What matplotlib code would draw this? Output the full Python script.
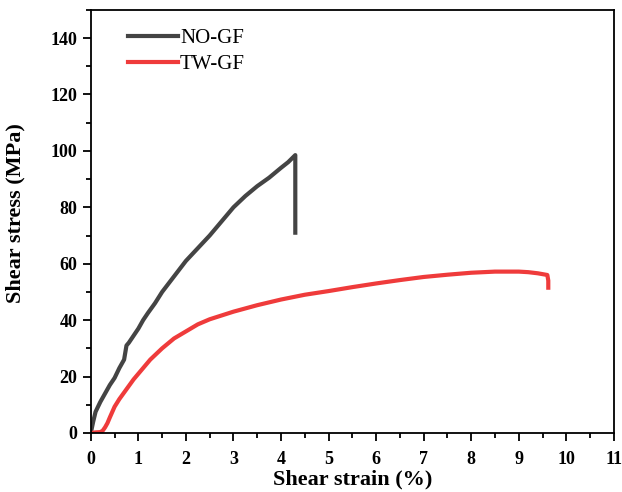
import numpy as np
import matplotlib.pyplot as plt
from matplotlib.ticker import MultipleLocator

plt.rcParams['font.family'] = ['Liberation Serif', 'DejaVu Serif']

# NO-GF: shear strain (%) / shear stress (MPa)
no_strain = [0, 0.05, 0.1, 0.2, 0.3, 0.4, 0.5, 0.6, 0.7, 0.72, 0.75, 0.8, 0.9, 1.0, 1.1,
             1.2, 1.35, 1.5, 1.75, 2.0, 2.25, 2.5, 2.75, 3.0, 3.25, 3.5, 3.75, 4.0,
             4.15, 4.3, 4.3]
no_stress = [0, 4, 7.5, 11, 14, 17, 19.5, 23, 26, 28, 31, 32, 34.5, 37, 40,
             42.5, 46, 50, 55.5, 61, 65.5, 70, 75, 80, 84, 87.5, 90.5, 94,
             96, 98.5, 71]

# TW-GF
tw_strain = [0, 0.1, 0.2, 0.25, 0.3, 0.35, 0.4, 0.5, 0.6, 0.75, 0.9, 1.0, 1.25, 1.5,
             1.75, 2.0, 2.25, 2.5, 3.0, 3.5, 4.0, 4.5, 5.0, 5.5, 6.0, 6.5, 7.0,
             7.5, 8.0, 8.5, 9.0, 9.2, 9.4, 9.6, 9.62, 9.62]
tw_stress = [0, 0.2, 0.3, 0.8, 2, 3.5, 5.5, 9.3, 12, 15.5, 19, 21, 26, 30,
             33.5, 36, 38.5, 40.3, 43, 45.3, 47.3, 49, 50.3, 51.7, 53, 54.2, 55.3,
             56.1, 56.8, 57.2, 57.2, 57.0, 56.6, 56, 54, 51.5]

fig = plt.figure(figsize=(6.22, 4.92), dpi=100)
ax = fig.add_axes([0.146, 0.12, 0.841, 0.86])

ax.plot(no_strain, no_stress, color='#444444', lw=3, label='NO-GF')
ax.plot(tw_strain, tw_stress, color='#ef3b3b', lw=3, label='TW-GF')

ax.set_xlim(0, 11)
ax.set_ylim(0, 150)
ax.xaxis.set_major_locator(MultipleLocator(1))
ax.xaxis.set_minor_locator(MultipleLocator(0.5))
ax.yaxis.set_major_locator(MultipleLocator(20))
ax.yaxis.set_minor_locator(MultipleLocator(10))
ax.tick_params(which='major', direction='out', length=6, width=1.3, labelsize=13)
ax.tick_params(axis='x', which='major', pad=7)
ax.tick_params(which='minor', direction='out', length=3.5, width=1.3)
for lab in ax.get_xticklabels() + ax.get_yticklabels():
    lab.set_fontweight('bold')
for s in ax.spines.values():
    s.set_linewidth(1.3)

ax.set_xlabel('Shear strain (%)', fontsize=16, fontweight='bold', labelpad=1)
ax.set_ylabel('Shear stress (MPa)', fontsize=16, fontweight='bold')
ax.yaxis.set_label_coords(-0.125, 0.52)

ax.legend(loc='upper left', bbox_to_anchor=(0.035, 1.0), frameon=False,
          fontsize=15, handlelength=2.4, handletextpad=0.1, labelspacing=0.3)

fig.savefig('out.png', dpi=100)
